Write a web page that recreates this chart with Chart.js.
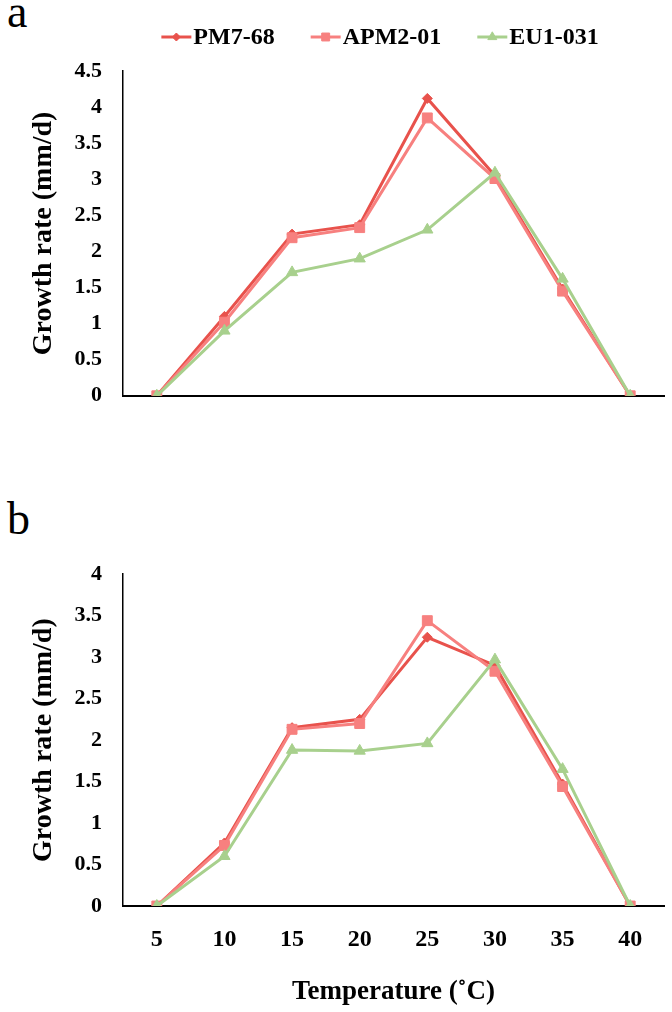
<!DOCTYPE html>
<html>
<head>
<meta charset="utf-8">
<script src="https://cdn.jsdelivr.net/npm/chart.js@4.4.1/dist/chart.umd.min.js"></script>
<style>
  html, body { margin: 0; padding: 0; background: #fff; }
  body { width: 672px; height: 1012px; position: relative; overflow: hidden; font-family: "Liberation Serif", "Times New Roman", serif; }
  .panel { position: absolute; left: 7px; font-size: 46px; line-height: 46px; color: #000; }
  #wrapA { position: absolute; left: 0; top: 0; width: 672px; height: 430px; }
  #wrapB { position: absolute; left: 0; top: 540px; width: 672px; height: 472px; }
</style>
</head>
<body>
<div class="panel" style="top:-11px">a</div>
<div class="panel" style="top:496px">b</div>
<div id="wrapA"><canvas id="chartA"></canvas></div>
<div id="wrapB"><canvas id="chartB"></canvas></div>
<script>
// temperatures (°C)
const temperatures = ['5', '10', '15', '20', '25', '30', '35', '40'];
const seriesNames = ['PM7-68', 'APM2-01', 'EU1-031'];

// panel a, growth rate (mm/d)
const aPM768  = [0, 1.10, 2.24, 2.37, 4.12, 3.05, 1.48, 0];
const aAPM201 = [0, 1.02, 2.19, 2.33, 3.85, 3.01, 1.45, 0];
const aEU1031 = [0, 0.90, 1.71, 1.90, 2.30, 3.09, 1.62, 0];

// panel b, growth rate (mm/d)
const bPM768  = [0, 0.76, 2.15, 2.25, 3.24, 2.90, 1.47, 0];
const bAPM201 = [0, 0.73, 2.13, 2.20, 3.44, 2.83, 1.44, 0];
const bEU1031 = [0, 0.60, 1.88, 1.87, 1.96, 2.97, 1.65, 0];

const yTicksA = [0, 0.5, 1, 1.5, 2, 2.5, 3, 3.5, 4, 4.5];
const yTicksB = [0, 0.5, 1, 1.5, 2, 2.5, 3, 3.5, 4];

const colors = ['#E8524C', '#F7807F', '#A8D08D'];
const markers = ['rectRot', 'rect', 'triangle'];
const markerSize = [5, 7, 6.5];

const serif = '"Liberation Serif", "Times New Roman", serif';

function makeDatasets(values) {
  return values.map((v, i) => ({
    label: seriesNames[i],
    data: v,
    borderColor: colors[i],
    backgroundColor: colors[i],
    pointBackgroundColor: colors[i],
    pointBorderColor: colors[i],
    pointStyle: markers[i],
    pointRadius: markerSize[i],
    pointBorderWidth: 1,
    borderWidth: 3,
    tension: 0,
    order: 3 - i // green on top, like excel
  }));
}

// legend with a line+marker key, drawn at a fixed spot above panel a
const legendKey = {
  id: 'legendKey',
  afterDraw(chart) {
    const ctx = chart.ctx;
    ctx.save();
    ctx.font = 'bold 24px ' + serif;
    ctx.textBaseline = 'middle';
    const lineLen = 30, gap = 2, spacing = 36, y = 37;
    const items = chart.data.datasets.map(ds => ({ ds, w: ctx.measureText(ds.label).width }));
    const total = items.reduce((s, it) => s + lineLen + gap + it.w, 0) + spacing * (items.length - 1);
    let x = 380 - total / 2;
    items.forEach(({ ds, w }) => {
      ctx.strokeStyle = ds.borderColor;
      ctx.lineWidth = 3;
      ctx.beginPath();
      ctx.moveTo(x, y);
      ctx.lineTo(x + lineLen, y);
      ctx.stroke();
      ctx.fillStyle = ds.backgroundColor;
      ctx.lineWidth = 1;
      Chart.helpers.drawPoint(ctx, { pointStyle: ds.pointStyle, radius: ds.pointRadius * 0.8, borderWidth: 1, rotation: 0 }, x + lineLen / 2, y);
      ctx.fillStyle = '#000';
      ctx.fillText(ds.label, x + lineLen + gap, y + 1);
      x += lineLen + gap + w + spacing;
    });
    ctx.restore();
  }
};

function yAxis(max, ticks) {
  return {
    min: 0,
    max: max,
    afterBuildTicks: s => { s.ticks = ticks.map(v => ({ value: v })); },
    afterFit: s => { s.width = 123; },
    grid: { display: false, drawTicks: false },
    border: { display: true, color: '#000', width: 1.5 },
    ticks: {
      color: '#000',
      padding: 21,
      font: { family: serif, size: 22, weight: 'bold' },
      callback: v => String(v)
    },
    title: {
      display: true,
      text: 'Growth rate (mm/d)',
      color: '#000',
      padding: { top: 27, bottom: 0 },
      font: { family: serif, size: 28, weight: 'bold' }
    }
  };
}

function buildChart(id, values, yMax, yTicks, showX) {
  const xAxis = {
    type: 'category',
    offset: true,
    grid: { display: false, drawTicks: false },
    border: { display: true, color: '#000', width: 2 },
    afterFit: s => { s.height = showX ? 106 : 15; },
    ticks: { display: showX, color: '#000', padding: 19, maxRotation: 0, font: { family: serif, size: 24, weight: 'bold' } },
    title: {
      display: showX,
      text: 'Temperature (˚C)',
      color: '#000',
      padding: { top: 0, bottom: 4 },
      font: { family: serif, size: 27, weight: 'bold' }
    }
  };
  return new Chart(document.getElementById(id), {
    type: 'line',
    data: { labels: temperatures, datasets: makeDatasets(values) },
    options: {
      responsive: true,
      maintainAspectRatio: false,
      animation: false,
      layout: { padding: { left: 0, right: 2, top: showX ? 23 : 71, bottom: 0 } },
      plugins: { legend: { display: false }, tooltip: { enabled: false } },
      scales: { x: xAxis, y: yAxis(yMax, yTicks) }
    },
    plugins: showX ? [] : [legendKey]
  });
}

buildChart('chartA', [aPM768, aAPM201, aEU1031], 4.5, yTicksA, false);
buildChart('chartB', [bPM768, bAPM201, bEU1031], 4, yTicksB, true);
</script>
</body>
</html>
